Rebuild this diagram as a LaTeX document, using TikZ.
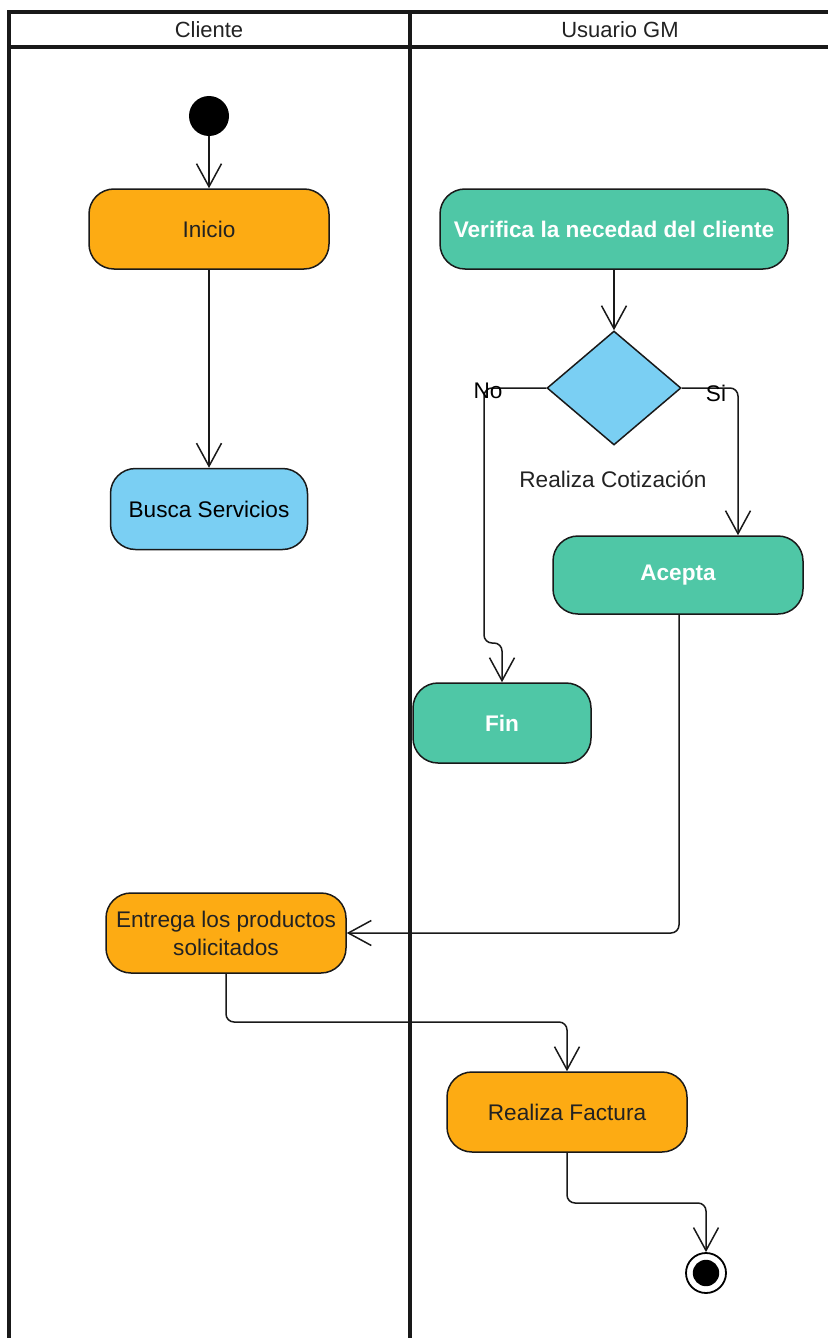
\documentclass[tikz,border=0pt]{standalone}
\usepackage{fontspec}
\setmainfont{Liberation Sans}
\usetikzlibrary{arrows.meta,shapes.geometric}
\definecolor{actorange}{HTML}{FDAB13}
\definecolor{actteal}{HTML}{4FC7A6}
\definecolor{actblue}{HTML}{7ACFF3}
\definecolor{txtdark}{HTML}{222222}
\tikzset{
  lane/.style={line width=1.7pt, draw=black!90},
  lanetitle/.style={font=\fontsize{11}{13}\selectfont, text=txtdark},
  activity/.style={rectangle, rounded corners=12.5pt, draw=black!90, line width=0.75pt,
    minimum width=120pt, minimum height=40pt, align=center, inner sep=1pt,
    font=\fontsize{11.3}{14}\selectfont},
  orangeact/.style={activity, fill=actorange, text=txtdark},
  blueact/.style={activity, fill=actblue, text=black},
  tealact/.style={activity, fill=actteal, text=white, font=\fontsize{11.3}{14}\selectfont\bfseries},
  decision/.style={diamond, draw=black!90, line width=0.75pt, fill=actblue,
    minimum width=67pt, minimum height=57pt, inner sep=0pt},
  startnode/.style={circle, fill=black, minimum size=20pt, inner sep=0pt},
  endnode/.style={circle, draw=black, line width=0.9pt, fill=white, minimum size=20pt, inner sep=0pt,
    path picture={\fill[black] (path picture bounding box.center) circle (6.6pt);}},
  flow/.style={draw=black!90, line width=0.75pt, rounded corners=4pt,
    -{Straight Barb[length=11.5pt, width=12.5pt, line width=0.75pt]}},
  guard/.style={font=\fontsize{11.3}{13}\selectfont, text=black, inner sep=0pt},
}
\begin{document}
\begin{tikzpicture}[x=0.5pt, y=-0.5pt]
\useasboundingbox (0,0) rectangle (828,1338);

% swimlanes
\draw[lane] (9,1338) -- (9,12) -- (828,12);
\draw[lane] (9,47) -- (828,47);
\draw[lane] (410,12) -- (410,1338);
\node[lanetitle] (cliente) at (209,30) {Cliente};
\node[lanetitle] (usuario) at (620,30) {Usuario GM};

% activities
\node[startnode] (start) at (209,116) {};
\node[orangeact] (inicio) at (209,229) {Inicio};
\node[blueact, minimum width=98.5pt, minimum height=40.5pt] (busca) at (209,509) {Busca Servicios};
\node[tealact, minimum width=174pt] (verif) at (614,229) {Verifica la necedad del cliente};
\node[decision] (dec) at (614,388) {};
\node[font=\fontsize{11.3}{13}\selectfont, text=txtdark] (cotiz) at (613,479) {Realiza Cotización};
\node[tealact, minimum width=125pt, minimum height=39pt] (acepta) at (678,575) {Acepta};
\node[tealact, minimum width=89pt] (fin) at (502,723) {Fin};
\node[orangeact] (entrega) at (226,933) {Entrega los productos\\solicitados};
\node[orangeact] (factura) at (567,1112) {Realiza Factura};
\node[endnode] (final) at (706,1273) {};

% waypoints
\coordinate (nobend) at (484,388);
\coordinate (nodown) at (484,643);
\coordinate (noshift) at (502,643);
\coordinate (sibend) at (738,388);
\coordinate (acbend) at (679,933);
\coordinate (endown) at (226,1022);
\coordinate (enright) at (567,1022);
\coordinate (fadown) at (567,1203);
\coordinate (faright) at (706,1203);

% flows
\draw[flow] (start) -- (inicio);
\draw[flow] (inicio) -- (busca);
\draw[flow] (verif) -- (dec);
\draw[flow] (dec.west) -- (nobend) -- (nodown) -- (noshift) -- (fin.north);
\draw[flow] (dec.east) -- (sibend) -- (sibend |- acepta.north);
\draw[flow] (acepta.south -| acbend) -- (acbend) -- (entrega.east);
\draw[flow] (entrega.south) -- (endown) -- (enright) -- (factura.north);
\draw[flow] (factura.south) -- (fadown) -- (faright) -- (final.north);

% guards
\node[guard] (no) at (488,391) {No};
\node[guard] (si) at (716,393) {Si};
\end{tikzpicture}
\end{document}
